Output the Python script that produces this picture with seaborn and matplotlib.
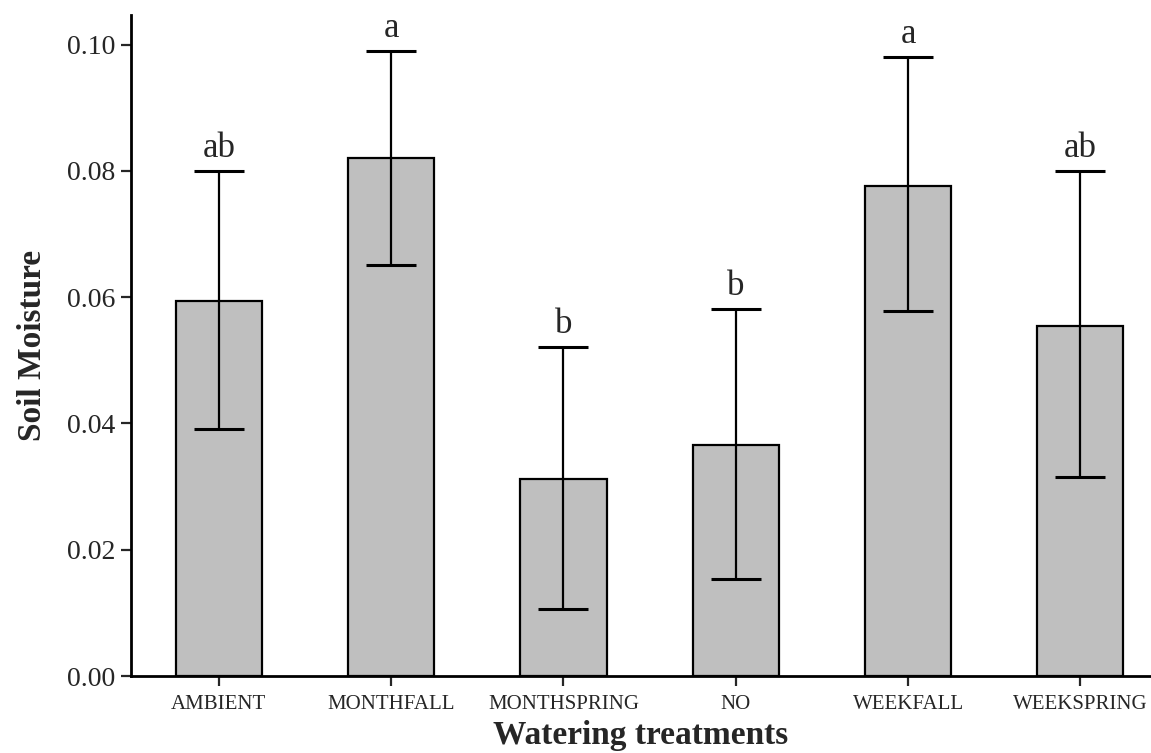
import matplotlib
matplotlib.use("Agg")
import matplotlib.pyplot as plt
import seaborn as sns
import numpy as np
import pandas as pd

categories = ["AMBIENT", "MONTHFALL", "MONTHSPRING", "NO", "WEEKFALL", "WEEKSPRING"]
means = [0.0594, 0.0821, 0.0312, 0.0366, 0.0776, 0.0555]
err_low = [0.0391, 0.0651, 0.0106, 0.0153, 0.0578, 0.0315]
err_high = [0.0800, 0.0990, 0.0521, 0.0581, 0.0980, 0.0800]
letters = ["ab", "a", "b", "b", "a", "ab"]
yticks = [0.00, 0.02, 0.04, 0.06, 0.08, 0.10]

sns.set_style("ticks")
plt.rcParams["font.family"] = ["Liberation Serif", "DejaVu Serif"]

df = pd.DataFrame({"treatment": categories, "moisture": means})

fig = plt.figure(figsize=(11.51, 7.53), dpi=100)
ax = fig.add_axes([131 / 1151, 1 - 676 / 753, 1 - 131 / 1151, (676 - 15) / 753])

sns.barplot(data=df, x="treatment", y="moisture", color="#bfbfbf", saturation=1,
            edgecolor="black", linewidth=1.6, width=0.5, errorbar=None, ax=ax)

m = np.array(means)
lo = m - np.array(err_low)
hi = np.array(err_high) - m
xs = np.arange(len(categories))
ax.errorbar(xs, m, yerr=[lo, hi], fmt="none", ecolor="black", elinewidth=1.6,
            capsize=18, capthick=2.2)

for x, top, lab in zip(xs, err_high, letters):
    ax.text(x, top + 0.0010, lab, ha="center", va="bottom", fontsize=25)

ax.set_xlim(-0.51, 5.41)
ax.set_ylim(0, 0.1047)
ax.set_yticks(yticks)
ax.set_yticklabels([f"{v:.2f}" for v in yticks])
ax.tick_params(axis="y", labelsize=20, length=7, width=1.6, pad=4)
ax.tick_params(axis="x", labelsize=15, length=7, width=1.6, pad=7)

for s in ["top", "right"]:
    ax.spines[s].set_visible(False)
for s in ["left", "bottom"]:
    ax.spines[s].set_linewidth(2)
    ax.spines[s].set_color("black")

ax.set_xlabel("Watering treatments", fontsize=24, fontweight="bold", labelpad=4)
ax.set_ylabel("Soil Moisture", fontsize=24, fontweight="bold", labelpad=14)

fig.savefig("out.png", dpi=100)
